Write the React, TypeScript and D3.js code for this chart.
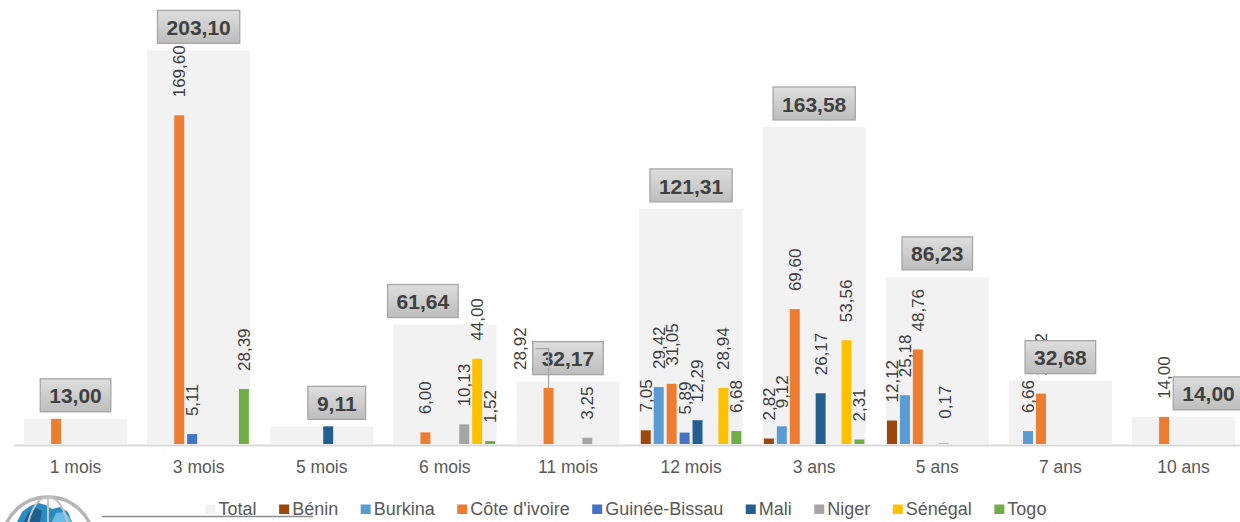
import { useEffect, useRef } from 'react';
import * as d3 from 'd3';

// maturities (x axis)
const categories = ['1 mois', '3 mois', '5 mois', '6 mois', '11 mois', '12 mois', '3 ans', '5 ans', '7 ans', '10 ans'];

// total per maturity (grey background bars + boxed labels)
const totals = [13.0, 203.1, 9.11, 61.64, 32.17, 121.31, 163.58, 86.23, 32.68, 14.0];

const seriesNames = ['Bénin', 'Burkina', "Côte d'ivoire", 'Guinée-Bissau', 'Mali', 'Niger', 'Sénégal', 'Togo'];
const seriesColors = ['#9e480e', '#5b9bd5', '#ed7d31', '#4472c4', '#255e91', '#a5a5a5', '#ffc000', '#70ad47'];

const beninValues = [null, null, null, null, null, 7.05, 2.82, 12.12, null, null];
const burkinaValues = [null, null, null, null, null, 29.42, 9.12, 25.18, 6.66, null];
const coteIvoireValues = [13.0, 169.6, null, 6.0, 28.92, 31.05, 69.6, 48.76, 26.02, 14.0];
const guineeBissauValues = [null, 5.11, null, null, null, 5.89, null, null, null, null];
const maliValues = [null, null, 9.11, null, null, 12.29, 26.17, 0.17, null, null];
const nigerValues = [null, null, null, 10.13, 3.25, null, null, null, null, null];
const senegalValues = [null, null, null, 44.0, null, 28.94, 53.56, null, null, null];
const togoValues = [null, 28.39, null, 1.52, null, 6.68, 2.31, null, null, null];

const seriesValues = [
  beninValues,
  burkinaValues,
  coteIvoireValues,
  guineeBissauValues,
  maliValues,
  nigerValues,
  senegalValues,
  togoValues,
];

// labels that were deleted / dragged by hand in the original workbook
const hiddenLabels = ["1 mois|Côte d'ivoire", '5 mois|Mali'];
const movedLabels: Record<string, { dx: number; dy: number; leader?: boolean }> = {
  "11 mois|Côte d'ivoire": { dx: -28, dy: 0, leader: true },
  '5 ans|Mali': { dx: 1, dy: -7 },
};
const totalLabelShift: Record<string, number> = { '5 mois': 15, '6 mois': -22, '10 ans': 25 };

const W = 1240;
const H = 522;
const FONT = '"Liberation Sans", Arial, sans-serif';

const fr = d3.formatLocale({ decimal: ',', thousands: ' ', grouping: [3], currency: ['', ' €'] });
const fmt = fr.format('.2f');

function App() {
  const svgRef = useRef<SVGSVGElement>(null);

  useEffect(() => {
    document.body.style.margin = '0';
    const svg = d3.select(svgRef.current);
    svg.selectAll('*').remove();

    const baseY = 444;
    const x = d3
      .scaleBand()
      .domain(categories)
      .range([14, 1245])
      .paddingInner(0.1625)
      .paddingOuter(0.081);
    const xs = d3
      .scaleBand()
      .domain(seriesNames)
      .range([0, x.bandwidth()])
      .paddingInner(0.23)
      .paddingOuter(0.1);
    const y = d3
      .scaleLinear()
      .domain([0, 225])
      .range([baseY, baseY - 225 * 1.938]);

    const defs = svg.append('defs');
    const grad = defs
      .append('linearGradient')
      .attr('id', 'boxGrad')
      .attr('x1', 0)
      .attr('y1', 0)
      .attr('x2', 0)
      .attr('y2', 1);
    grad.append('stop').attr('offset', '0%').attr('stop-color', '#dedede');
    grad.append('stop').attr('offset', '100%').attr('stop-color', '#bdbdbd');

    // total bars
    svg
      .append('g')
      .selectAll('rect')
      .data(categories)
      .enter()
      .append('rect')
      .attr('x', d => x(d)!)
      .attr('y', (d, i) => y(totals[i]))
      .attr('width', x.bandwidth())
      .attr('height', (d, i) => baseY - y(totals[i]))
      .attr('fill', '#f2f2f2');

    // axis
    const axis = svg
      .append('g')
      .attr('transform', `translate(0,${baseY + 1})`)
      .call(d3.axisBottom(x).tickSize(0).tickSizeOuter(0).tickPadding(15.5));
    axis.select('.domain').attr('stroke', '#d9d9d9').attr('stroke-width', 2);
    axis
      .selectAll('text')
      .attr('font-family', FONT)
      .attr('font-size', 17.5)
      .attr('fill', '#595959');

    const rows: { cat: string; name: string; value: number; color: string }[] = [];
    categories.forEach((cat, i) => {
      seriesNames.forEach((name, j) => {
        const v = seriesValues[j][i];
        if (v != null) rows.push({ cat, name, value: v, color: seriesColors[j] });
      });
    });

    svg
      .append('g')
      .selectAll('rect')
      .data(rows)
      .enter()
      .append('rect')
      .attr('x', d => x(d.cat)! + xs(d.name)!)
      .attr('y', d => y(d.value))
      .attr('width', xs.bandwidth())
      .attr('height', d => baseY - y(d.value))
      .attr('fill', d => d.color);

    // rotated value labels
    const gap = 18;
    const labelLayer = svg.append('g');
    const leaders: { cx: number; lx: number; top: number; mid: number }[] = [];
    rows.forEach(d => {
      const key = `${d.cat}|${d.name}`;
      if (hiddenLabels.includes(key)) return;
      const cx = x(d.cat)! + xs(d.name)! + xs.bandwidth() / 2;
      const mv = movedLabels[key] || { dx: 0, dy: 0 };
      const t = labelLayer
        .append('text')
        .attr('transform', `translate(${cx + mv.dx},${y(d.value) - gap + mv.dy}) rotate(-90)`)
        .attr('dy', '0.35em')
        .attr('font-family', FONT)
        .attr('font-size', 17)
        .attr('fill', '#404040')
        .text(fmt(d.value));
      if (mv.leader) {
        const len = (t.node() as SVGTextElement).getComputedTextLength();
        leaders.push({ cx, lx: cx + mv.dx + 15, top: y(d.value), mid: y(d.value) - gap + mv.dy - len / 2 });
      }
    });

    // total boxes
    const boxLayer = svg.append('g');
    categories.forEach((cat, i) => {
      const cx = x(cat)! + x.bandwidth() / 2 + (totalLabelShift[cat] || 0);
      const g = boxLayer.append('g').attr('transform', `translate(${cx},${y(totals[i]) - 7})`);
      const rect = g.append('rect');
      const t = g
        .append('text')
        .attr('y', -8.4)
        .attr('text-anchor', 'middle')
        .attr('font-family', FONT)
        .attr('font-size', 21)
        .attr('font-weight', 'bold')
        .attr('fill', '#404040')
        .text(fmt(totals[i]));
      const w = (t.node() as SVGTextElement).getComputedTextLength() + 18;
      rect
        .attr('x', -w / 2)
        .attr('y', -33)
        .attr('width', w)
        .attr('height', 33)
        .attr('fill', 'url(#boxGrad)')
        .attr('stroke', '#a6a6a6')
        .attr('stroke-width', 1.3);
    });

    leaders.forEach(l => {
      svg
        .append('path')
        .attr('d', `M${l.lx},${l.mid}H${l.cx}V${l.top}`)
        .attr('fill', 'none')
        .attr('stroke', '#a6a6a6')
        .attr('stroke-width', 1.3);
    });

    // logo (globe) + rule under legend
    const logo = svg.append('g');
    logo
      .append('line')
      .attr('x1', 102)
      .attr('x2', 313)
      .attr('y1', 516.5)
      .attr('y2', 516.5)
      .attr('stroke', '#8c8c8c')
      .attr('stroke-width', 1.6);
    logo
      .append('circle')
      .attr('cx', 48)
      .attr('cy', 543)
      .attr('r', 46)
      .attr('fill', '#fff')
      .attr('stroke', '#b5b5b5')
      .attr('stroke-width', 3.5);
    logo
      .append('path')
      .attr('d', 'M17,522 L22,512 L30,506 L38,503 L46,505 L52,509 L60,507 L68,512 L72,522 Z')
      .attr('fill', '#2b8cc4');
    logo
      .append('path')
      .attr('d', 'M24,522 L28,513 L36,508 L42,511 L40,522 Z')
      .attr('fill', '#1d5e8e');
    logo
      .append('path')
      .attr('d', 'M52,522 L56,513 L64,512 L70,518 L71,522 Z')
      .attr('fill', '#6cbde6');
    logo
      .append('ellipse')
      .attr('cx', 48)
      .attr('cy', 543)
      .attr('rx', 22)
      .attr('ry', 46)
      .attr('fill', 'none')
      .attr('stroke', '#c4c4c4')
      .attr('stroke-width', 2);
    logo
      .append('line')
      .attr('x1', 48)
      .attr('x2', 48)
      .attr('y1', 497)
      .attr('y2', 522)
      .attr('stroke', '#c4c4c4')
      .attr('stroke-width', 2);

    // legend
    const legendItems = [{ name: 'Total', color: '#f2f2f2' }].concat(
      seriesNames.map((name, i) => ({ name, color: seriesColors[i] })),
    );
    const legend = svg.append('g');
    let lx = 0;
    legendItems.forEach(item => {
      legend
        .append('rect')
        .attr('x', lx)
        .attr('y', 504.5)
        .attr('width', 10)
        .attr('height', 9.5)
        .attr('fill', item.color);
      const t = legend
        .append('text')
        .attr('x', lx + 13)
        .attr('y', 515)
        .attr('font-family', FONT)
        .attr('font-size', 18)
        .attr('fill', '#595959')
        .text(item.name);
      lx += 13 + (t.node() as SVGTextElement).getComputedTextLength() + 22.5;
    });
    const legendWidth = lx - 22.5;
    legend.attr('transform', `translate(${626 - legendWidth / 2},0)`);
  }, []);

  return <svg ref={svgRef} width={W} height={H} style={{ display: 'block', background: '#fff' }} />;
}

export default App;
